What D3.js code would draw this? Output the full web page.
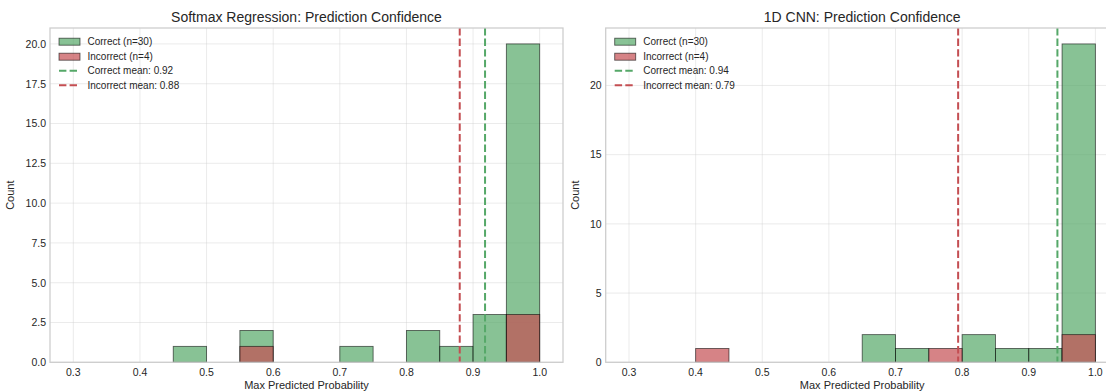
<!DOCTYPE html>
<html>
<head>
<meta charset="utf-8">
<script src="https://cdn.jsdelivr.net/npm/d3@7"></script>
<style>
  html, body { margin: 0; padding: 0; background: #fff; }
  svg { display: block; font-family: "Liberation Sans", Arial, sans-serif; }
</style>
</head>
<body>
<svg id="chart" width="1106" height="392"></svg>
<script>
// Histogram bins are 0.05 wide; each array holds the lower bin edge and the count in that bin.
const binWidth = 0.05;

const softmaxCorrectBins = [0.45, 0.55, 0.70, 0.80, 0.85, 0.90, 0.95];
const softmaxCorrectCounts = [1, 2, 1, 2, 1, 3, 20];
const softmaxIncorrectBins = [0.55, 0.95];
const softmaxIncorrectCounts = [1, 3];
const softmaxMeans = [0.918, 0.880]; // correct, incorrect

const cnnCorrectBins = [0.65, 0.70, 0.80, 0.85, 0.90, 0.95];
const cnnCorrectCounts = [2, 1, 2, 1, 1, 23];
const cnnIncorrectBins = [0.40, 0.75, 0.95];
const cnnIncorrectCounts = [1, 1, 2];
const cnnMeans = [0.943, 0.794];

const xTicks = [0.3, 0.4, 0.5, 0.6, 0.7, 0.8, 0.9, 1.0];
const softmaxYTicks = [0, 2.5, 5, 7.5, 10, 12.5, 15, 17.5, 20];
const cnnYTicks = [0, 5, 10, 15, 20];

const titles = ["Softmax Regression: Prediction Confidence", "1D CNN: Prediction Confidence"];

const GREEN = "#55a868", RED = "#c44e52", TEXT = "#262626";

const svg = d3.select("#chart");

function panel(opt) {
  const { left, width, top, bottom, yMax, yTicks, yFmt, title,
          cBins, cCounts, iBins, iCounts, means, nCorrect, nIncorrect } = opt;
  const x = d3.scaleLinear().domain([0.265, 1.035]).range([left, left + width]);
  const y = d3.scaleLinear().domain([0, yMax]).range([bottom, top]);
  const g = svg.append("g");

  // grid
  g.append("g").selectAll("line").data(xTicks).join("line")
    .attr("x1", d => x(d)).attr("x2", d => x(d)).attr("y1", top).attr("y2", bottom)
    .attr("stroke", "#cccccc").attr("stroke-opacity", 0.4).attr("stroke-width", 1);
  g.append("g").selectAll("line").data(yTicks).join("line")
    .attr("x1", left).attr("x2", left + width).attr("y1", d => y(d)).attr("y2", d => y(d))
    .attr("stroke", "#cccccc").attr("stroke-opacity", 0.4).attr("stroke-width", 1);

  // bars
  const bars = (bins, counts, color) => {
    g.append("g").selectAll("rect").data(bins.map((b, i) => ({ b, c: counts[i] }))).join("rect")
      .attr("x", d => x(d.b)).attr("width", d => x(d.b + binWidth) - x(d.b))
      .attr("y", d => y(d.c)).attr("height", d => y(0) - y(d.c))
      .attr("fill", color).attr("fill-opacity", 0.7)
      .attr("stroke", "#000").attr("stroke-opacity", 0.6).attr("stroke-width", 0.9);
  };
  bars(cBins, cCounts, GREEN);
  bars(iBins, iCounts, RED);

  // mean lines
  [[means[0], GREEN], [means[1], RED]].forEach(([m, c]) => {
    g.append("line").attr("x1", x(m)).attr("x2", x(m)).attr("y1", top).attr("y2", bottom)
      .attr("stroke", c).attr("stroke-width", 2).attr("stroke-dasharray", "7.4,3.2");
  });

  // frame
  g.append("rect").attr("x", left).attr("y", top).attr("width", width).attr("height", bottom - top)
    .attr("fill", "none").attr("stroke", "#cccccc").attr("stroke-width", 1.25);

  // tick labels
  g.append("g").selectAll("text").data(xTicks).join("text")
    .attr("x", d => x(d)).attr("y", bottom + 14).attr("text-anchor", "middle")
    .attr("font-size", 10.5).attr("fill", TEXT).text(d => d.toFixed(1));
  g.append("g").selectAll("text").data(yTicks).join("text")
    .attr("x", left - 4).attr("y", d => y(d) + 3.8).attr("text-anchor", "end")
    .attr("font-size", 10.5).attr("fill", TEXT).text(yFmt);

  // axis labels and title
  g.append("text").attr("x", left + width / 2).attr("y", bottom + 27).attr("text-anchor", "middle")
    .attr("font-size", 11).attr("fill", TEXT).text("Max Predicted Probability");
  g.append("text").attr("transform", `translate(${left - opt.yLabelOffset},${(top + bottom) / 2}) rotate(-90)`)
    .attr("text-anchor", "middle").attr("font-size", 11).attr("fill", TEXT).text("Count");
  g.append("text").attr("x", left + width / 2).attr("y", top - 6).attr("text-anchor", "middle")
    .attr("font-size", 14).attr("fill", TEXT).text(title);

  // legend
  const lx = left + 9, rows = [41.7, 56.7, 70.7, 85.3];
  const items = [
    { type: "patch", color: GREEN, label: `Correct (n=${nCorrect})` },
    { type: "patch", color: RED, label: `Incorrect (n=${nIncorrect})` },
    { type: "line", color: GREEN, label: `Correct mean: ${means[0].toFixed(2)}` },
    { type: "line", color: RED, label: `Incorrect mean: ${means[1].toFixed(2)}` }
  ];
  items.forEach((it, i) => {
    const cy = rows[i];
    if (it.type === "patch") {
      g.append("rect").attr("x", lx).attr("y", cy - 3.5).attr("width", 21).attr("height", 7)
        .attr("fill", it.color).attr("fill-opacity", 0.7)
        .attr("stroke", "#000").attr("stroke-opacity", 0.6).attr("stroke-width", 0.9);
    } else {
      g.append("line").attr("x1", lx).attr("x2", lx + 21).attr("y1", cy).attr("y2", cy)
        .attr("stroke", it.color).attr("stroke-width", 2).attr("stroke-dasharray", "7.4,3.2");
    }
    g.append("text").attr("x", lx + 28.5).attr("y", cy + 3.5).attr("font-size", 10)
      .attr("fill", TEXT).text(it.label);
  });
}

const sum = a => a.reduce((s, v) => s + v, 0);

panel({
  left: 50, width: 513, top: 28, bottom: 362.3, yMax: 21, yTicks: softmaxYTicks,
  yFmt: d => d.toFixed(1), title: titles[0], yLabelOffset: 36,
  cBins: softmaxCorrectBins, cCounts: softmaxCorrectCounts,
  iBins: softmaxIncorrectBins, iCounts: softmaxIncorrectCounts, means: softmaxMeans,
  nCorrect: sum(softmaxCorrectCounts), nIncorrect: sum(softmaxIncorrectCounts)
});
panel({
  left: 605.7, width: 513, top: 28, bottom: 362.3, yMax: 24.15, yTicks: cnnYTicks,
  yFmt: d => d3.format("d")(d), title: titles[1], yLabelOffset: 27,
  cBins: cnnCorrectBins, cCounts: cnnCorrectCounts,
  iBins: cnnIncorrectBins, iCounts: cnnIncorrectCounts, means: cnnMeans,
  nCorrect: sum(cnnCorrectCounts), nIncorrect: sum(cnnIncorrectCounts)
});
</script>
</body>
</html>
